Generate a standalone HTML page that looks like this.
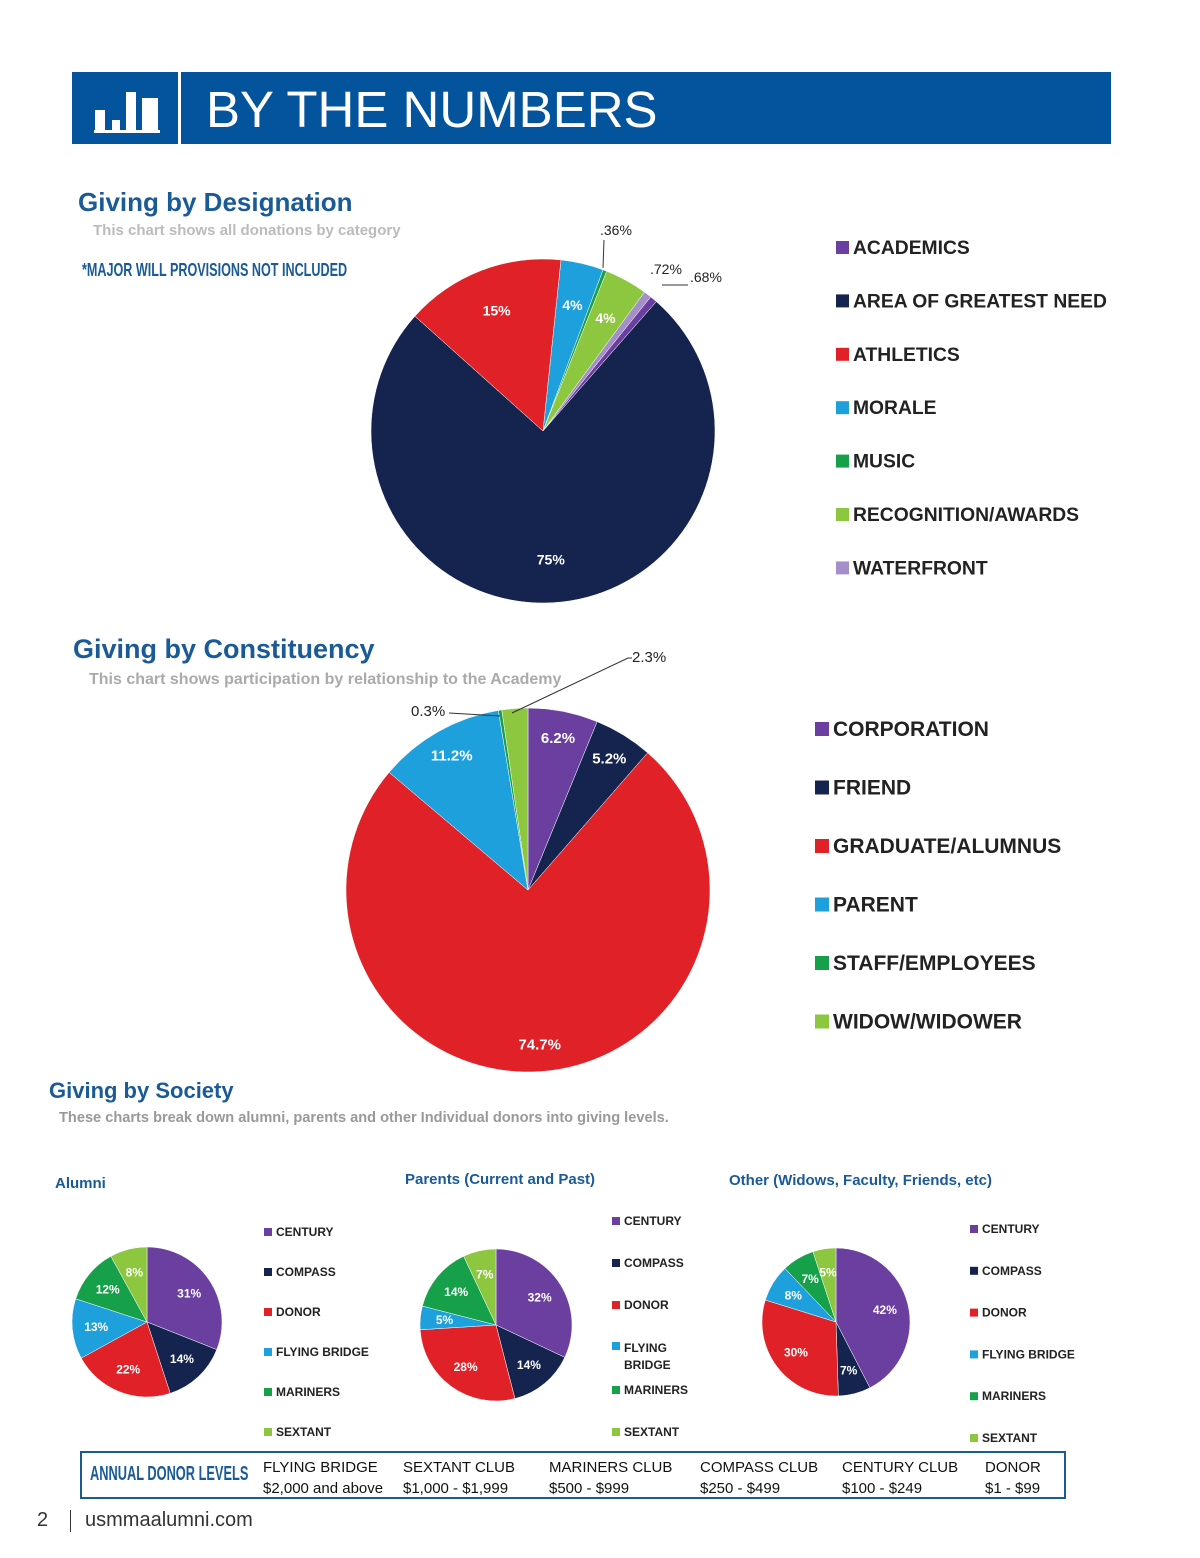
<!DOCTYPE html>
<html><head><meta charset="utf-8"><style>
body{margin:0;background:#fff;font-family:"Liberation Sans",sans-serif;}
#page{position:relative;width:1200px;height:1558px;overflow:hidden;background:#fff}
.t{position:absolute;white-space:nowrap}
</style></head><body>
<div id="page">
<div class="t" style="left:72px;top:72px;width:1039px;height:72px;background:#03549c"></div>
<div class="t" style="left:178px;top:72px;width:3px;height:72px;background:#fff"></div>
<svg class="t" style="left:90px;top:82px" width="80" height="54"><rect x="5" y="28" width="10" height="20" fill="#fff"/><rect x="22" y="38" width="8" height="10" fill="#fff"/><rect x="36" y="10" width="10" height="38" fill="#fff"/><rect x="52" y="16" width="16" height="32" fill="#fff"/><rect x="4" y="48" width="66" height="3" fill="#fff"/></svg>
<div class="t" style="left:206px;top:80px;font-size:51px;color:#fff;line-height:60px">BY THE NUMBERS</div>

<div class="t" style="left:78px;top:187px;font-size:26px;font-weight:bold;color:#1a5a96">Giving by Designation</div>
<div class="t" style="left:93px;top:222px;font-size:15px;font-weight:bold;color:#bbb">This chart shows all donations by category</div>
<div class="t" style="left:82px;top:260px;font-size:18px;font-weight:bold;color:#1a5a96;transform:scaleX(0.7);transform-origin:left">*MAJOR WILL PROVISIONS NOT INCLUDED</div>

<div class="t" style="left:73px;top:634px;font-size:27px;font-weight:bold;color:#1a5a96">Giving by Constituency</div>
<div class="t" style="left:89px;top:671px;font-size:16px;font-weight:bold;color:#aaa">This chart shows participation by relationship to the Academy</div>

<div class="t" style="left:49px;top:1078px;font-size:22px;font-weight:bold;color:#1a5a96">Giving by Society</div>
<div class="t" style="left:59px;top:1110px;font-size:14.6px;font-weight:bold;color:#999">These charts break down alumni, parents and other Individual donors into giving levels.</div>
<div class="t" style="left:55px;top:1175px;font-size:15px;font-weight:bold;color:#1a5a96">Alumni</div>
<div class="t" style="left:405px;top:1171px;font-size:15px;font-weight:bold;color:#1a5a96">Parents (Current and Past)</div>
<div class="t" style="left:729px;top:1172px;font-size:15px;font-weight:bold;color:#1a5a96">Other (Widows, Faculty, Friends, etc)</div>

<svg id="charts" class="t" style="left:0;top:0" width="1200" height="1558"></svg>

<div class="t" style="left:80px;top:1451px;width:982px;height:44px;border:2px solid #1a5a96"></div>
<div class="t" style="left:90px;top:1463px;font-size:20px;font-weight:bold;color:#1a5a96;transform:scaleX(0.64);transform-origin:left">ANNUAL DONOR LEVELS</div>
<div id="levels"></div>
<div class="t" style="left:37px;top:1509px;font-size:20px;color:#333">2</div>
<div class="t" style="left:70px;top:1510px;width:1px;height:22px;background:#333"></div>
<div class="t" style="left:85px;top:1509px;font-size:20px;color:#333">usmmaalumni.com</div>
</div>
<script>
const C={purple:"#6b3fa0",navy:"#14244f",red:"#e02128",blue:"#1ea0dc",green:"#17a04a",lgreen:"#8dc63f",lav:"#a58fc8"};
// Designation
const desigCats=["MORALE","MUSIC","RECOGNITION/AWARDS","WATERFRONT","ACADEMICS","AREA OF GREATEST NEED","ATHLETICS"];
const desigVals=[4,0.36,4,0.72,0.68,75,15];
const desigLabels=["4%","","4%","","","75%","15%"];
const desigLegend=["ACADEMICS","AREA OF GREATEST NEED","ATHLETICS","MORALE","MUSIC","RECOGNITION/AWARDS","WATERFRONT"];
// Constituency
const constCats=["CORPORATION","FRIEND","GRADUATE/ALUMNUS","PARENT","STAFF/EMPLOYEES","WIDOW/WIDOWER"];
const constVals=[6.2,5.2,74.7,11.2,0.3,2.3];
const constLabels=["6.2%","5.2%","74.7%","11.2%","",""];
// Society
const socCats=["CENTURY","COMPASS","DONOR","FLYING BRIDGE","MARINERS","SEXTANT"];
const alumniVals=[31,14,22,13,12,8];
const parentVals=[32,14,28,5,14,7];
const otherVals=[42,7,30,8,7,5];
const levelNames=["FLYING BRIDGE","SEXTANT CLUB","MARINERS CLUB","COMPASS CLUB","CENTURY CLUB","DONOR"];
const levelRanges=["$2,000 and above","$1,000 - $1,999","$500 - $999","$250 - $499","$100 - $249","$1 - $99"];

const colorOf={MORALE:C.blue,MUSIC:C.green,"RECOGNITION/AWARDS":C.lgreen,WATERFRONT:C.lav,ACADEMICS:C.purple,"AREA OF GREATEST NEED":C.navy,ATHLETICS:C.red,
CORPORATION:C.purple,FRIEND:C.navy,"GRADUATE/ALUMNUS":C.red,PARENT:C.blue,"STAFF/EMPLOYEES":C.green,"WIDOW/WIDOWER":C.lgreen,
CENTURY:C.purple,COMPASS:C.navy,DONOR:C.red,"FLYING BRIDGE":C.blue,MARINERS:C.green,SEXTANT:C.lgreen};
const svg=document.getElementById('charts');const NS="http://www.w3.org/2000/svg";
function mk(t,a){const e=document.createElementNS(NS,t);for(const k in a)e.setAttribute(k,a[k]);svg.appendChild(e);return e;}
function pt(cx,cy,r,deg){const a=(deg-90)*Math.PI/180;return[cx+r*Math.cos(a),cy+r*Math.sin(a)];}
function pie(name,cx,cy,r,cats,vals,labels,start,fs,lr){
  const tot=vals.reduce((a,b)=>a+b,0);let a=start;
  vals.forEach((v,i)=>{const s=v/tot*360,b=a+s;const p1=pt(cx,cy,r,a),p2=pt(cx,cy,r,b);
    const p=mk('path',{d:`M${cx},${cy}L${p1[0]},${p1[1]}A${r},${r} 0 ${s>180?1:0} 1 ${p2[0]},${p2[1]}Z`,fill:colorOf[cats[i]],stroke:'#fff','stroke-width':0.5});
    
    
    if(labels[i]){const m=pt(cx,cy,r*lr,a+s/2);const t=mk('text',{x:m[0],y:m[1]+fs/3,'text-anchor':'middle','font-size':fs,'font-weight':'bold',fill:'#fff','font-family':'Liberation Sans'});t.textContent=labels[i];
      
      }
    a=b;});
}
function legend(name,x,y,gap,cats,fs,sq){
  cats.forEach((c,i)=>{const r=mk('rect',{x:x,y:y+i*gap-sq,width:sq,height:sq,fill:colorOf[c]});
    
    
    const t=mk('text',{x:x+sq+4,y:y+i*gap,'font-size':fs,'font-weight':'bold',fill:'#222','font-family':'Liberation Sans'});t.textContent=c;
    
    });
}
pie('designation',543,431,172,desigCats,desigVals,desigLabels,6,14,0.75);
function txt(x,y,s,fs,name){const t=mk('text',{x:x,y:y,'font-size':fs,fill:'#222','font-family':'Liberation Sans'});t.textContent=s;
  
  }
txt(600,235,'.36%',14,'callout-music');txt(650,274,'.72%',14,'callout-waterfront');txt(690,282,'.68%',14,'callout-academics');
mk('line',{x1:604,y1:240,x2:603,y2:268,stroke:'#333','stroke-width':1});
mk('line',{x1:662,y1:285,x2:688,y2:285,stroke:'#333','stroke-width':1});
legend('designation',836,254,53.4,desigLegend,19.3,13);
pie('constituency',528,890,182,constCats,constVals,constLabels,0,15,0.85);
txt(411,716,'0.3%',15,'callout-staff');txt(632,662,'2.3%',15,'callout-widow');
mk('polyline',{points:'449,713 500,716',stroke:'#333',fill:'none'});
mk('polyline',{points:'512,713 628,658 632,658',stroke:'#333',fill:'none'});
legend('constituency',815,736,58.5,constCats,21,14);
const lbl=v=>v.map(x=>x+'%');
pie('alumni',147,1322,75,socCats,alumniVals,lbl(alumniVals),0,12,0.68);
pie('parents',496,1325,76,socCats,parentVals,lbl(parentVals),0,12,0.68);
pie('other',836,1322,74,socCats,otherVals,lbl(otherVals),0,12,0.68);
legend('alumni',264,1236,40,socCats,12,8);
legend('parents',612,1225,42,["CENTURY","COMPASS","DONOR"],12,8);
legend('parents2',612,1394,42,["MARINERS","SEXTANT"],12,8);
mk('rect',{x:612,y:1342,width:8,height:8,fill:C.blue});
txt(624,1352,'FLYING',12,'parents-legend-entry');txt(624,1369,'BRIDGE',12,'parents-legend-entry');
svg.lastChild.setAttribute('font-weight','bold');svg.lastChild.previousSibling.setAttribute('font-weight','bold');
legend('other',970,1233,41.8,socCats,12,8);
const lv=document.getElementById('levels');const xs=[263,403,549,700,842,985];
levelNames.forEach((n,i)=>{const d=document.createElement('div');d.className='t';d.style.cssText=`left:${xs[i]}px;top:1457px;font-size:15px;color:#111;line-height:21px`;
  d.innerHTML=n+'<br>'+levelRanges[i];
  
  
  lv.appendChild(d);});
</script>
</body></html>
